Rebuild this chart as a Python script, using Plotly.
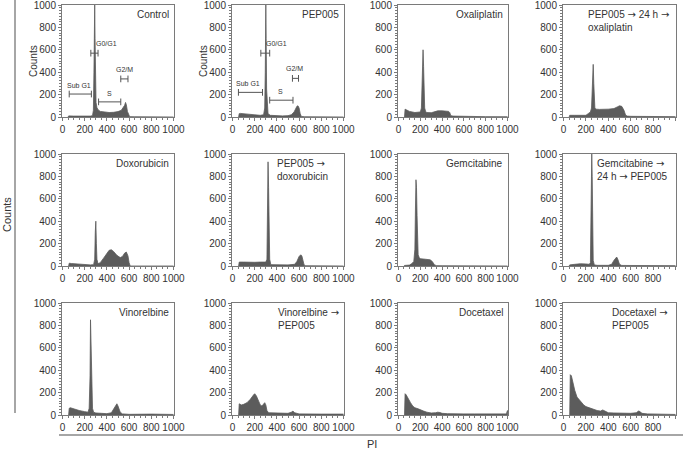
import plotly.graph_objects as go

W, H = 685, 451

AR = '<span style="font-family:DejaVu Sans">\u2192</span>'
titles = ["Control", "PEP005", "Oxaliplatin", f"PEP005 {AR} 24 h {AR}<br>oxaliplatin",
          "Doxorubicin", f"PEP005 {AR}<br>doxorubicin", "Gemcitabine", f"Gemcitabine {AR}<br>24 h {AR} PEP005",
          "Vinorelbine", f"Vinorelbine {AR}<br>PEP005", "Docetaxel", f"Docetaxel {AR}<br>PEP005"]

x1 = [50, 55, 100, 150, 200, 250, 270, 278, 283, 287, 290, 293, 297, 302, 310, 320, 340, 380, 420, 460, 500, 530, 550, 560, 568, 575, 585, 595, 605, 650, 800, 1000]
y1 = [0, 10, 8, 6, 5, 8, 12, 60, 400, 800, 1000, 700, 300, 130, 85, 65, 50, 42, 40, 42, 48, 60, 85, 105, 130, 110, 50, 15, 3, 2, 1, 0]

x2 = [55, 60, 70, 100, 150, 200, 250, 280, 290, 295, 300, 303, 307, 312, 320, 340, 400, 450, 500, 530, 555, 570, 580, 590, 600, 610, 620, 650, 1000]
y2 = [0, 30, 32, 28, 22, 18, 15, 20, 80, 400, 1000, 700, 250, 80, 30, 15, 10, 10, 12, 20, 45, 75, 95, 100, 80, 30, 5, 2, 0]

x3 = [55, 60, 70, 100, 150, 200, 210, 215, 220, 225, 230, 235, 240, 250, 260, 300, 340, 360, 400, 440, 460, 470, 480, 500, 600, 800, 1000]
y3 = [0, 70, 65, 50, 40, 45, 80, 250, 520, 600, 450, 200, 80, 45, 40, 38, 45, 55, 55, 50, 50, 40, 12, 8, 5, 3, 2]

x4 = [50, 55, 100, 150, 200, 220, 240, 250, 255, 260, 265, 270, 275, 280, 290, 320, 400, 450, 480, 500, 520, 540, 555, 570, 600, 800, 1000]
y4 = [0, 15, 15, 13, 15, 30, 45, 80, 250, 430, 470, 300, 120, 80, 70, 68, 70, 75, 90, 100, 95, 60, 15, 8, 6, 4, 3]

x5 = [55, 60, 80, 150, 200, 250, 280, 290, 295, 300, 305, 310, 320, 340, 370, 400, 420, 440, 460, 490, 520, 540, 560, 575, 590, 600, 610, 1000]
y5 = [0, 25, 22, 15, 12, 10, 12, 60, 300, 400, 200, 60, 20, 30, 70, 115, 140, 145, 130, 95, 75, 85, 115, 125, 90, 30, 0, 0]

x6 = [55, 60, 100, 150, 200, 250, 300, 310, 315, 320, 325, 330, 335, 345, 400, 500, 560, 580, 600, 615, 625, 635, 645, 660, 1000]
y6 = [0, 35, 35, 32, 33, 35, 35, 60, 400, 930, 700, 250, 60, 12, 10, 10, 15, 40, 85, 100, 90, 40, 10, 2, 0]

x7 = [50, 55, 100, 120, 140, 150, 155, 160, 165, 170, 175, 180, 190, 200, 250, 290, 310, 330, 350, 400, 1000]
y7 = [0, 5, 8, 20, 40, 150, 500, 770, 700, 450, 200, 100, 75, 65, 60, 55, 40, 10, 3, 2, 0]

x8 = [50, 55, 100, 150, 200, 230, 240, 245, 248, 252, 256, 260, 265, 275, 300, 400, 430, 450, 465, 475, 485, 500, 520, 1000]
y8 = [0, 10, 15, 20, 18, 15, 30, 300, 800, 1000, 800, 300, 50, 10, 6, 6, 15, 50, 75, 80, 60, 15, 5, 3]

x9 = [55, 60, 70, 100, 150, 200, 230, 240, 248, 252, 256, 260, 265, 270, 280, 300, 350, 400, 440, 460, 480, 490, 500, 520, 540, 600, 800, 1000]
y9 = [0, 60, 65, 55, 40, 30, 25, 60, 350, 850, 700, 300, 120, 60, 25, 18, 15, 12, 20, 50, 90, 100, 80, 25, 10, 6, 8, 5]

x10 = [55, 60, 80, 100, 130, 160, 190, 200, 215, 230, 250, 265, 280, 290, 300, 310, 325, 350, 400, 450, 500, 530, 545, 560, 600, 800, 1000]
y10 = [0, 100, 90, 95, 110, 140, 180, 190, 170, 130, 90, 80, 100, 110, 90, 40, 20, 20, 18, 15, 15, 25, 35, 20, 10, 8, 8]

x11 = [55, 60, 70, 90, 110, 130, 150, 180, 200, 230, 260, 300, 340, 360, 380, 400, 450, 500, 600, 700, 800, 900, 990, 1000, 1003]
y11 = [0, 190, 180, 140, 110, 80, 65, 55, 45, 35, 25, 18, 20, 25, 22, 15, 12, 10, 10, 10, 8, 8, 10, 40, 0]

x12 = [55, 60, 70, 80, 100, 120, 150, 180, 200, 250, 300, 330, 350, 370, 400, 450, 500, 600, 650, 670, 685, 700, 750, 800, 1000]
y12 = [0, 360, 350, 300, 220, 160, 120, 90, 75, 55, 40, 35, 45, 35, 20, 18, 15, 15, 20, 35, 30, 15, 10, 8, 5]

xs = [x1, x2, x3, x4, x5, x6, x7, x8, x9, x10, x11, x12]
ys = [y1, y2, y3, y4, y5, y6, y7, y8, y9, y10, y11, y12]

tickvals = [0, 200, 400, 600, 800, 1000]
ticktext = ["0", "200", "400", "600", "800", "1000"]

# bracket annotations for first two panels: (x0, x1, y, label, label_x, label_y)
brackets1 = [(60, 260, 205, "Sub G1", 150, 235), (255, 320, 570, "G0/G1", 395, 605),
             (325, 525, 135, "S", 420, 165), (525, 590, 340, "G2/M", 555, 375)]
brackets2 = [(53, 270, 220, "Sub G1", 140, 250), (255, 335, 570, "G0/G1", 400, 605),
             (335, 545, 150, "S", 435, 180), (540, 595, 345, "G2/M", 555, 380)]

# pixel geometry of panels
cols = [(62, 174), (232, 344), (398, 508), (563, 676)]
rows = [(5, 117), (154, 266), (303, 415)]

FONT = "Liberation Sans, Arial, sans-serif"
FILL = "#5c5c5c"
FRAME = "#7a7a7a"

fig = go.Figure()
layout = dict(width=W, height=H, autosize=False, margin=dict(l=0, r=0, t=0, b=0, autoexpand=False),
              paper_bgcolor="white", plot_bgcolor="white", showlegend=False)
annotations = []
shapes = []

for i in range(12):
    r, c = divmod(i, 4)
    n = i + 1
    xa = "xaxis" if n == 1 else f"xaxis{n}"
    ya = "yaxis" if n == 1 else f"yaxis{n}"
    xr = "x" if n == 1 else f"x{n}"
    yr = "y" if n == 1 else f"y{n}"
    fig.add_trace(go.Scatter(x=xs[i], y=ys[i], mode="lines", fill="tozeroy",
                             line=dict(color=FILL, width=0.8), fillcolor=FILL,
                             xaxis=xr, yaxis=yr, hoverinfo="skip"))
    (cx0, cx1), (ry0, ry1) = cols[c], rows[r]
    common = dict(showline=True, mirror=True, linecolor=FRAME, linewidth=1, showgrid=False,
                  zeroline=False, ticks="outside", ticklen=3, tickcolor=FRAME, automargin=False,
                  tickangle=0, fixedrange=True,
                  tickfont=dict(family=FONT, size=10, color="#333"),
                  tickvals=tickvals, ticktext=ticktext,
                  minor=dict(ticks="outside", ticklen=2, dtick=50, tickcolor=FRAME))
    layout[xa] = dict(common, domain=[cx0 / W, cx1 / W], range=[-5, 1005], anchor=yr)
    layout[ya] = dict(common, domain=[1 - ry1 / H, 1 - ry0 / H], range=[0, 1000], anchor=xr,
                      minor=dict(ticks="outside", ticklen=2, dtick=25, tickcolor=FRAME))
    t = titles[i]
    if "<br>" in t:
        lx = {3: 200, 5: 380, 7: 283, 9: 390, 11: 415}[i]
        annotations.append(dict(x=lx, y=985, xref=xr, yref=yr, text=t, showarrow=False,
                                xanchor="left", yanchor="top", align="left",
                                font=dict(family=FONT, size=10, color="#333")))
    else:
        annotations.append(dict(x=975, y=985, xref=xr, yref=yr, text=t, showarrow=False,
                                xanchor="right", yanchor="top",
                                font=dict(family=FONT, size=10, color="#333")))

for n, br in ((1, brackets1), (2, brackets2)):
    xr = "x" if n == 1 else f"x{n}"
    yr = "y" if n == 1 else f"y{n}"
    for bx0, bx1, by, lab, lx, ly in br:
        shapes.append(dict(type="line", xref=xr, yref=yr, x0=bx0, x1=bx1, y0=by, y1=by,
                           line=dict(color="#555", width=1)))
        for bx in (bx0, bx1):
            shapes.append(dict(type="line", xref=xr, yref=yr, x0=bx, x1=bx, y0=by - 30, y1=by + 30,
                               line=dict(color="#555", width=1)))
        annotations.append(dict(x=lx, y=ly, xref=xr, yref=yr, text=lab, showarrow=False,
                                xanchor="center", yanchor="bottom",
                                font=dict(family=FONT, size=7, color="#333")))

# y-axis titles on first two panels
for px in (33, 203):
    annotations.append(dict(x=px / W, y=1 - 61 / H, xref="paper", yref="paper", text="Counts",
                            textangle=-90, showarrow=False, xanchor="center", yanchor="middle",
                            font=dict(family=FONT, size=10, color="#333")))
# outer labels
annotations.append(dict(x=7 / W, y=1 - 215 / H, xref="paper", yref="paper", text="Counts",
                        textangle=-90, showarrow=False, xanchor="center", yanchor="middle",
                        font=dict(family=FONT, size=11, color="#333")))
annotations.append(dict(x=372 / W, y=1 - 444 / H, xref="paper", yref="paper", text="PI",
                        showarrow=False, xanchor="center", yanchor="middle",
                        font=dict(family=FONT, size=11, color="#333")))
shapes.append(dict(type="line", xref="paper", yref="paper", x0=15 / W, x1=15 / W,
                   y0=1 - 413 / H, y1=1.0, line=dict(color="#888", width=1.5)))
shapes.append(dict(type="line", xref="paper", yref="paper", x0=59 / W, x1=683 / W,
                   y0=1 - 435 / H, y1=1 - 435 / H, line=dict(color="#888", width=1.5)))

layout["annotations"] = annotations
layout["shapes"] = shapes
fig.update_layout(**layout)
fig.write_html("out.html", config={"displayModeBar": False, "staticPlot": True},
               post_script="document.body.style.margin='0';document.body.style.padding='0';"
                           "document.body.style.overflow='hidden';")
